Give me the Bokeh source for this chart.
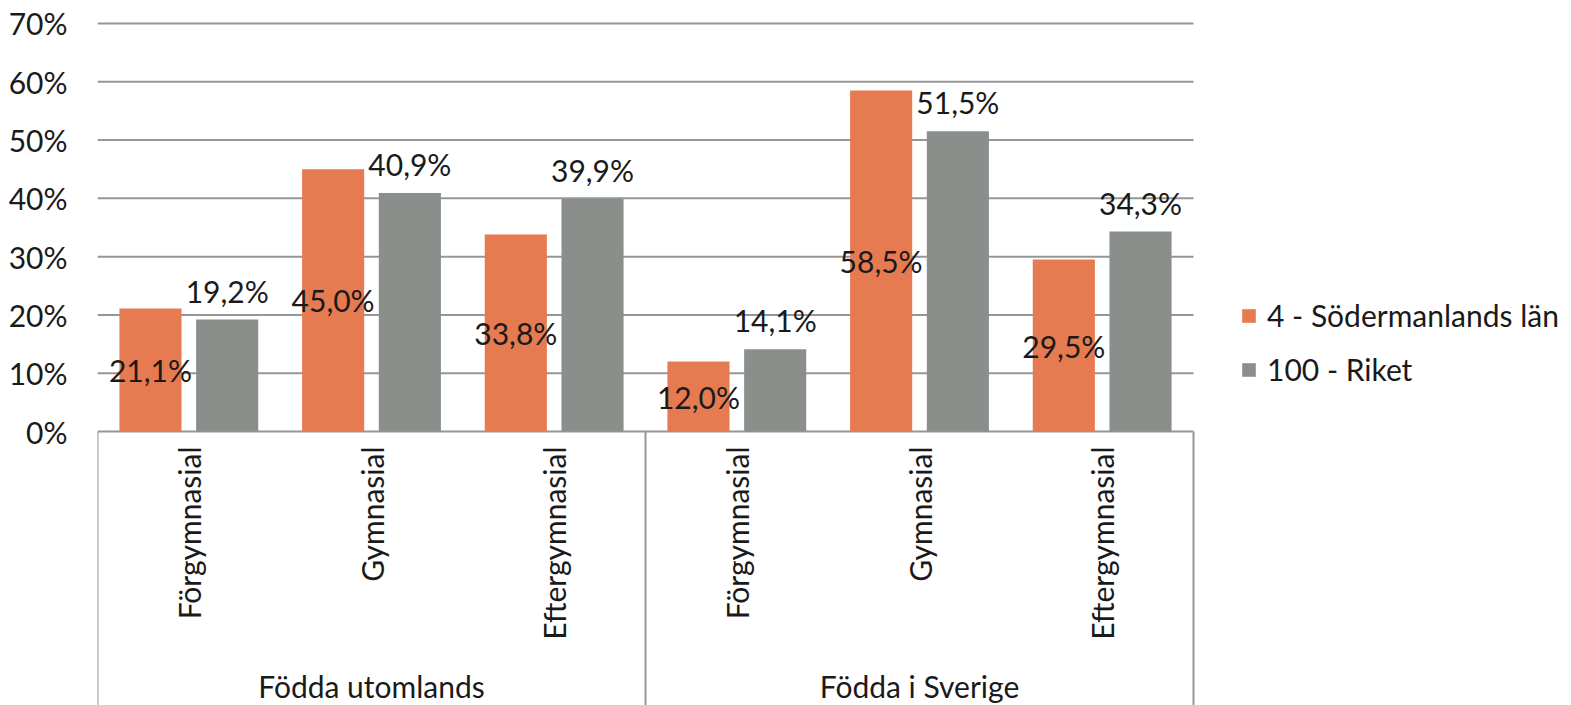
import math
from bokeh.plotting import figure
from bokeh.models import (Range1d, FixedTicker, ColumnDataSource,
                          Legend, LegendItem, PrintfTickFormatter)
from bokeh.core.properties import value
from bokeh.embed import file_html
from bokeh.resources import INLINE

groups = ["Födda utomlands", "Födda i Sverige"]
categories = ["Förgymnasial", "Gymnasial", "Eftergymnasial"]
series_names = ["4 - Södermanlands län", "100 - Riket"]
sodermanland = [21.1, 45.0, 33.8, 12.0, 58.5, 29.5]
riket = [19.2, 40.9, 39.9, 14.1, 51.5, 34.3]
y_ticks = [0, 10, 20, 30, 40, 50, 60, 70]

ORANGE = "#E67B51"
GRAY = "#8B8F8C"
LINE = "#969696"
TXT = "#1a1a1a"
FONT = "Lato"
FS = "30px"

# layout constants (pixels / range extents)
Y_TOP = 70.34
Y_BOTTOM = -47.0
N = len(groups) * len(categories)
X_END = N * (1571 - 97) / 1096.0   # frame continues right, for the legend
DODGE = 0.21
BAR_W = 0.34

slot = list(range(N))
xc = [i + 0.5 for i in slot]
src = ColumnDataSource(dict(
    xa=[x - DODGE for x in xc],
    xb=[x + DODGE for x in xc],
    xc=xc,
    a=sodermanland,
    b=riket,
    a_mid=[v / 2 for v in sodermanland],
    a_lbl=[f"{v:.1f}%".replace(".", ",") for v in sodermanland],
    b_lbl=[f"{v:.1f}%".replace(".", ",") for v in riket],
    cat=[c for g in groups for c in categories],
))

p = figure(width=1571, height=705, output_backend="svg", toolbar_location=None,
           x_range=Range1d(0, X_END), y_range=Range1d(Y_BOTTOM, Y_TOP),
           min_border_left=97, min_border_right=0, min_border_top=21,
           min_border_bottom=0)
p.outline_line_color = None
p.xaxis.visible = False
p.xgrid.visible = False
p.ygrid.visible = False

ticker = FixedTicker(ticks=y_ticks)
p.yaxis.ticker = ticker
p.yaxis.axis_line_color = None
p.yaxis.major_tick_line_color = None
p.yaxis.minor_tick_line_color = None
p.yaxis.major_tick_out = 0
p.yaxis.major_label_standoff = 30
p.yaxis.formatter = PrintfTickFormatter(format="%d%%")
p.yaxis.major_label_text_font = FONT
p.yaxis.major_label_text_font_size = FS
p.yaxis.major_label_text_color = TXT

# horizontal gridlines (only across the category area)
p.segment(x0=0, x1=N, y0=y_ticks, y1=y_ticks, line_color=LINE, line_width=2)

r1 = p.vbar(x="xa", top="a", width=BAR_W, source=src,
            fill_color=ORANGE, line_color=None)
r2 = p.vbar(x="xb", top="b", width=BAR_W, source=src,
            fill_color=GRAY, line_color=None)

# separators of the category axis
bounds = [gi * len(categories) for gi in range(len(groups) + 1)]
p.segment(x0=bounds, x1=bounds, y0=0, y1=Y_BOTTOM, line_color=LINE, line_width=2)

# data labels
p.text(x="xa", y="a_mid", text="a_lbl", source=src,
       text_align="center", text_baseline="middle", text_font=value(FONT),
       text_font_size=FS, text_color=TXT)
p.text(x="xb", y="b", text="b_lbl", source=src,
       text_align="center", text_baseline="middle", y_offset=-29,
       text_font=value(FONT), text_font_size=FS, text_color=TXT)

# category labels
p.text(x="xc", y=0, text="cat", source=src, angle=math.pi / 2, y_offset=15,
       text_align="right", text_baseline="middle", text_font=value(FONT),
       text_font_size=FS, text_color=TXT)
gx = [gi * len(categories) + len(categories) / 2 for gi in range(len(groups))]
p.text(x=gx, y=[0] * len(groups), text=groups, y_offset=254,
       text_align="center", text_baseline="middle", text_font=value(FONT),
       text_font_size=FS, text_color=TXT)

legend = Legend(items=[LegendItem(label=series_names[0], renderers=[r1]),
                       LegendItem(label=series_names[1], renderers=[r2])],
                location=(1143, 318), orientation="vertical")
legend.glyph_width = 17
legend.glyph_height = 17
legend.label_height = 30
legend.spacing = 18
legend.label_standoff = 10
legend.padding = 0
legend.margin = 0
legend.border_line_color = None
legend.background_fill_alpha = 0
legend.label_text_font = FONT
legend.label_text_font_size = FS
legend.label_text_color = TXT
p.add_layout(legend, "center")

open("out.html", "w").write(file_html(p, INLINE))
